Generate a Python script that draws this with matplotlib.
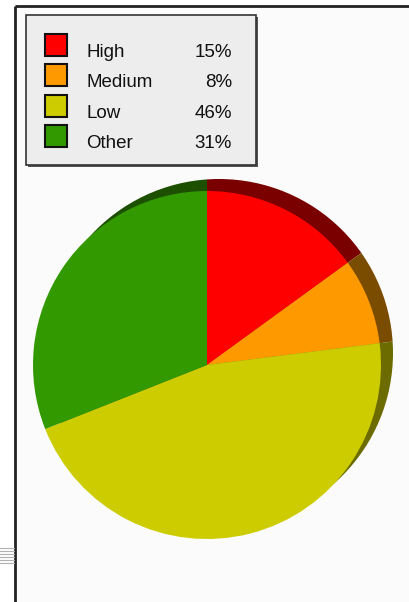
import matplotlib.pyplot as plt
from matplotlib.patches import Rectangle, Circle

# slice data
labels = ["High", "Medium", "Low", "Other"]
shares = [15, 8, 46, 31]
colors = ["#ff0000", "#ff9900", "#cccc00", "#339900"]
dark_colors = ["#7a0000", "#7a4c00", "#6b6b00", "#1c4f00"]

W, H = 409, 602
fig = plt.figure(figsize=(W / 100, H / 100), dpi=100)
fig.patch.set_facecolor("white")
ax = fig.add_axes([0, 0, 1, 1])
ax.set_axis_off()


def py(y):
    # pixel rows are counted from the top
    return H - y


# panel background and frame
ax.add_patch(Rectangle((15, 0), W - 15, py(6), facecolor="#fbfbfb", edgecolor="none", zorder=0))
ax.plot([15, W], [py(6), py(6)], color="#222222", lw=2, solid_capstyle="butt", zorder=5)
ax.plot([15, 15], [0, py(6)], color="#222222", lw=2, solid_capstyle="butt", zorder=5)
for yy in [548, 551, 554, 557, 560, 563]:
    ax.plot([0, 14], [py(yy), py(yy)], color="#b0b0b0", lw=0.8, zorder=5)

cx, cy, r = 207, py(365), 174

# rim: oversized wedges around the same centre, clipped to a shifted disc
rim, _ = ax.pie(shares, colors=dark_colors, startangle=90, counterclock=False,
                radius=r + 40, center=(cx, cy),
                wedgeprops=dict(linewidth=0, zorder=1))

ax.pie(shares, colors=colors, startangle=90, counterclock=False,
       radius=r, center=(cx, cy),
       wedgeprops=dict(linewidth=0, zorder=2))

ax.set_xlim(0, W)
ax.set_ylim(0, H)
ax.set_aspect("equal")

rim_disc = Circle((cx + 12, cy + 12), r, facecolor="none", edgecolor="none")
ax.add_patch(rim_disc)
for w in rim:
    w.set_clip_on(True)
    w.set_clip_path(rim_disc)

# legend box
bx0, by0, bx1, by1 = 26, 15, 256, 165
ax.add_patch(Rectangle((bx0 + 2, py(by1 + 2)), bx1 - bx0, by1 - by0,
                       facecolor="#555555", edgecolor="none", zorder=6))
ax.add_patch(Rectangle((bx0, py(by1)), bx1 - bx0, by1 - by0,
                       facecolor="#ededed", edgecolor="#333333", lw=1.2, zorder=7))

for i, (lab, val, col) in enumerate(zip(labels, shares, colors)):
    top = 34 + i * 30.4
    ax.add_patch(Rectangle((45, py(top + 22)), 22, 22, facecolor=col,
                           edgecolor="#111111", lw=1.5, zorder=8))
    base = top + 23
    ax.text(86, py(base), lab, fontsize=13.5, family="Liberation Sans",
            color="#111111", ha="left", va="baseline", zorder=8)
    ax.text(232, py(base), f"{val}%", fontsize=13.5, family="Liberation Sans",
            color="#111111", ha="right", va="baseline", zorder=8)

fig.savefig("out.png", dpi=100)
